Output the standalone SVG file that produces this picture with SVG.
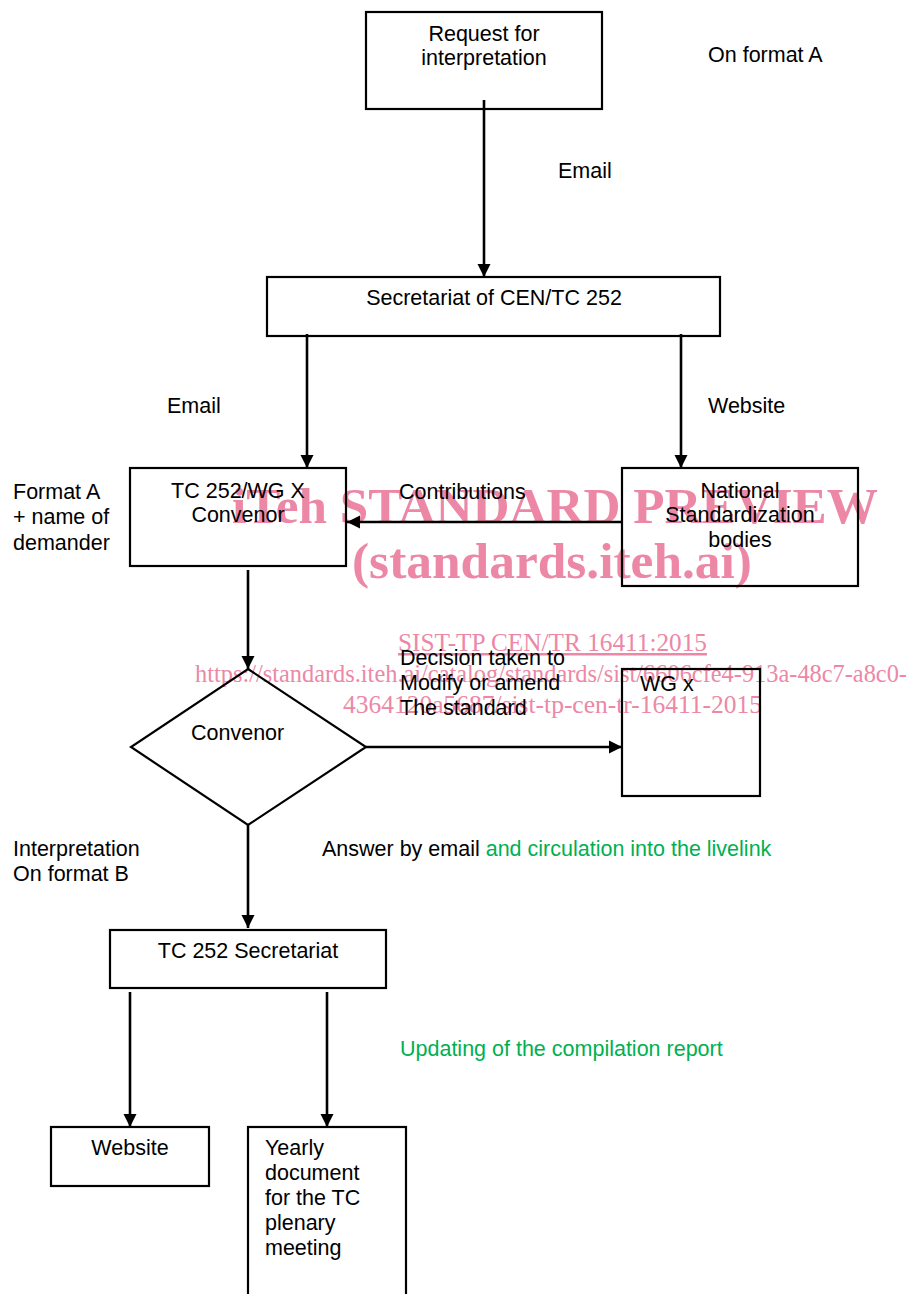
<svg xmlns="http://www.w3.org/2000/svg" width="912" height="1294" viewBox="0 0 912 1294">
<style>
  .box { fill: none; stroke: #000000; stroke-width: 2.2; }
  .ln { fill: none; stroke: #000000; stroke-width: 2.6; }
  .t { font-family: "Liberation Sans", Arial, sans-serif; font-size: 21.5px; fill: #000000; }
  .c { text-anchor: middle; }
  .g { fill: #00b050; }
  .wm { font-family: "Liberation Serif", "Times New Roman", serif; fill: #ec88a6; }
  .wmb { font-weight: bold; font-size: 50px; }
  .wms { font-size: 25px; }
</style>
<defs>
  <marker id="arr" markerUnits="userSpaceOnUse" markerWidth="14" markerHeight="14" refX="13" refY="7" orient="auto">
    <path d="M0,0.5 L13,7 L0,13.5 z" fill="#000000"/>
  </marker>
</defs>
<rect width="912" height="1294" fill="#ffffff"/>

<g id="watermark">
  <text class="wm wmb" x="232" y="523" textLength="646" lengthAdjust="spacingAndGlyphs">iTeh STANDARD PREVIEW</text>
  <text class="wm wmb" x="352" y="578" textLength="400" lengthAdjust="spacingAndGlyphs">(standards.iteh.ai)</text>
  <text class="wm wms" x="398" y="651" textLength="309" lengthAdjust="spacingAndGlyphs" text-decoration="underline">SIST-TP CEN/TR 16411:2015</text>
  <text class="wm wms" x="195" y="682" textLength="712" lengthAdjust="spacingAndGlyphs">https://standards.iteh.ai/catalog/standards/sist/6606cfe4-913a-48c7-a8c0-</text>
  <text class="wm wms" x="343" y="713" textLength="419" lengthAdjust="spacingAndGlyphs">4364120a5687/sist-tp-cen-tr-16411-2015</text>
</g>

<g id="request">
  <rect class="box" x="366" y="12" width="236" height="97"/>
  <text class="t c" x="484" y="41">Request for</text>
  <text class="t c" x="484" y="65">interpretation</text>
</g>
<g id="secretariat-cen">
  <rect class="box" x="267" y="277" width="453" height="59"/>
  <text class="t c" x="494" y="305">Secretariat of CEN/TC 252</text>
</g>
<g id="wg-convenor">
  <rect class="box" x="130" y="468" width="216" height="98"/>
  <text class="t c" x="238" y="498">TC 252/WG X</text>
  <text class="t c" x="238" y="522">Convenor</text>
</g>
<g id="nsb">
  <rect class="box" x="622" y="468" width="236" height="118"/>
  <text class="t c" x="740" y="498">National</text>
  <text class="t c" x="740" y="522">Standardization</text>
  <text class="t c" x="740" y="547">bodies</text>
</g>
<g id="convenor-decision">
  <polygon class="box" points="248,669 366,747 248,825 131,747"/>
  <text class="t" x="191" y="740">Convenor</text>
</g>
<g id="wgx">
  <rect class="box" x="622" y="669" width="138" height="127"/>
  <text class="t" x="640" y="691">WG x</text>
</g>
<g id="tc-secretariat">
  <rect class="box" x="110" y="930" width="276" height="58"/>
  <text class="t c" x="248" y="958">TC 252 Secretariat</text>
</g>
<g id="website">
  <rect class="box" x="51" y="1127" width="158" height="59"/>
  <text class="t c" x="130" y="1155">Website</text>
</g>
<g id="yearly">
  <rect class="box" x="248" y="1127" width="158" height="180"/>
  <text class="t" x="265" y="1155">Yearly</text>
  <text class="t" x="265" y="1180">document</text>
  <text class="t" x="265" y="1205">for the TC</text>
  <text class="t" x="265" y="1230">plenary</text>
  <text class="t" x="265" y="1255">meeting</text>
</g>

<g id="connectors">
  <line class="ln" x1="484" y1="100" x2="484" y2="277" marker-end="url(#arr)"/>
  <line class="ln" x1="307" y1="334" x2="307" y2="468" marker-end="url(#arr)"/>
  <line class="ln" x1="681" y1="334" x2="681" y2="468" marker-end="url(#arr)"/>
  <line class="ln" x1="622" y1="522" x2="347" y2="522" marker-end="url(#arr)"/>
  <line class="ln" x1="248" y1="570" x2="248" y2="669" marker-end="url(#arr)"/>
  <line class="ln" x1="366" y1="747" x2="622" y2="747" marker-end="url(#arr)"/>
  <line class="ln" x1="248" y1="825" x2="248" y2="928" marker-end="url(#arr)"/>
  <line class="ln" x1="130" y1="992" x2="130" y2="1127" marker-end="url(#arr)"/>
  <line class="ln" x1="327" y1="992" x2="327" y2="1127" marker-end="url(#arr)"/>
</g>

<g id="labels">
  <text class="t" x="708" y="62">On format A</text>
  <text class="t" x="558" y="178">Email</text>
  <text class="t" x="167" y="413">Email</text>
  <text class="t" x="708" y="413">Website</text>
  <text class="t" x="13" y="499">Format A</text>
  <text class="t" x="13" y="524">+ name of</text>
  <text class="t" x="13" y="550">demander</text>
  <text class="t" x="399" y="499">Contributions</text>
  <text class="t" x="400" y="665">Decision taken to</text>
  <text class="t" x="400" y="690">Modify or amend</text>
  <text class="t" x="400" y="715">The standard</text>
  <text class="t" x="13" y="856">Interpretation</text>
  <text class="t" x="13" y="881">On format B</text>
  <text class="t" x="322" y="856">Answer by email <tspan class="g">and circulation into the livelink</tspan></text>
  <text class="t g" x="400" y="1056">Updating of the compilation report</text>
</g>
</svg>
